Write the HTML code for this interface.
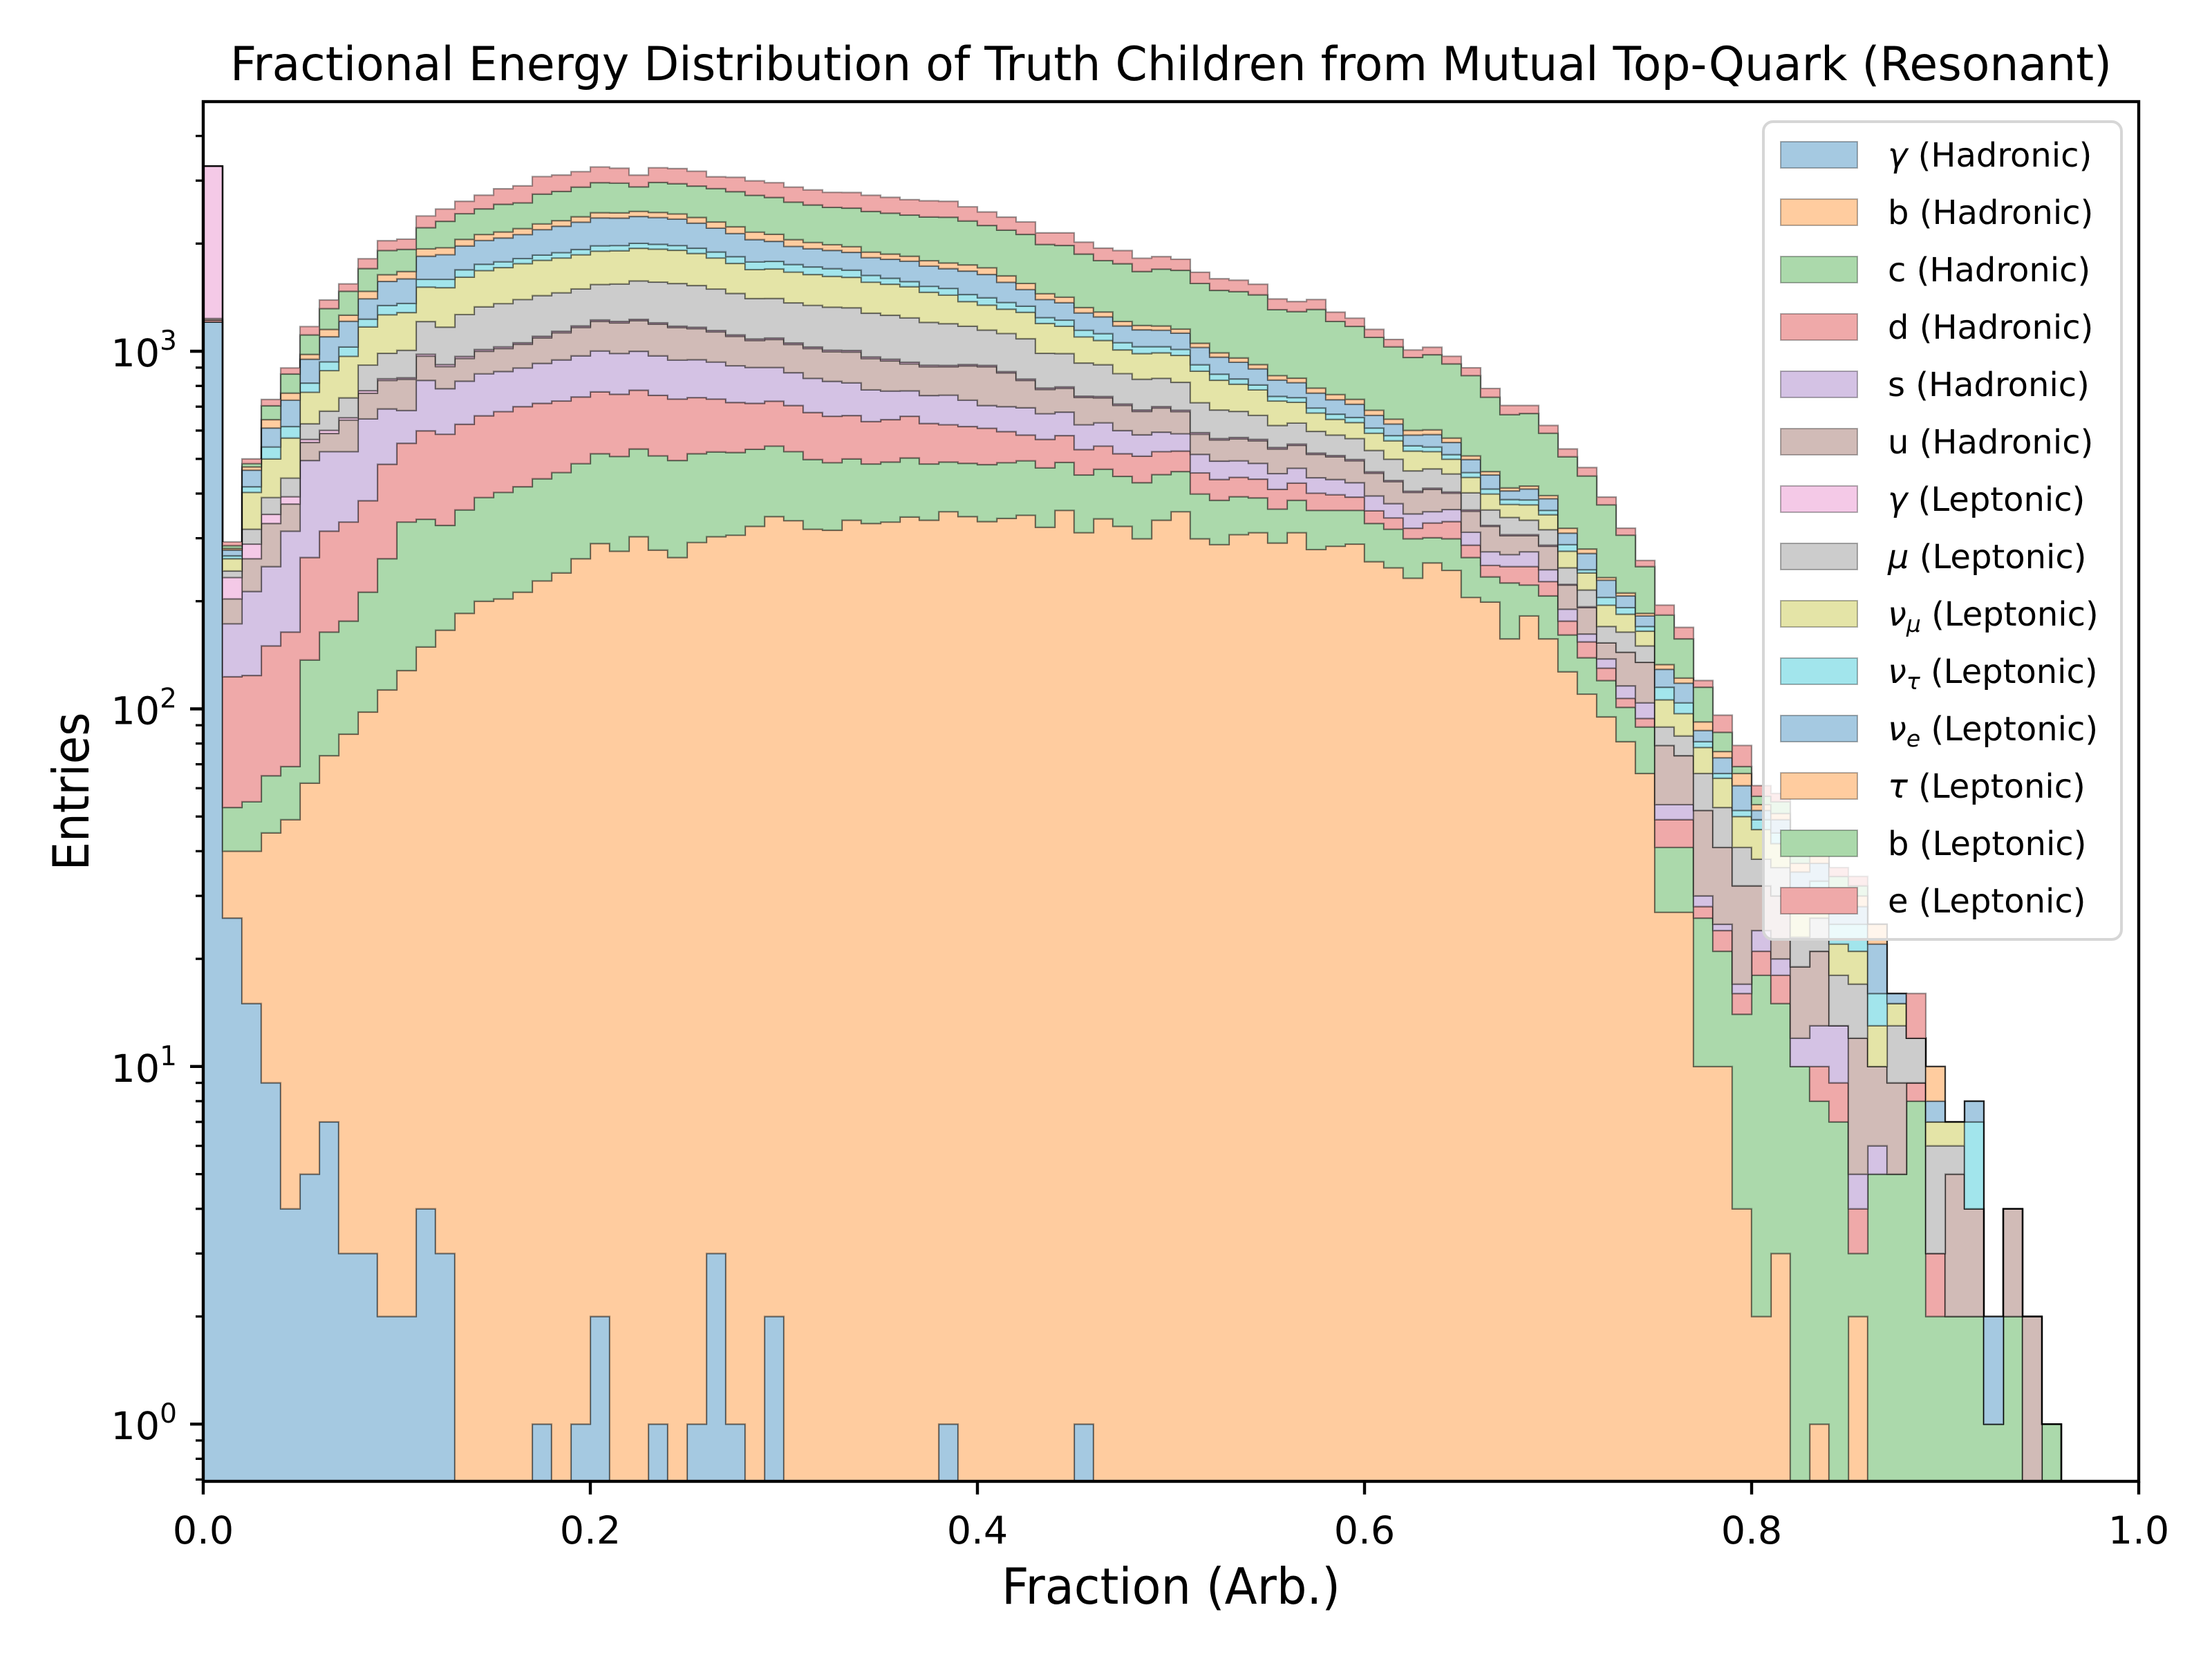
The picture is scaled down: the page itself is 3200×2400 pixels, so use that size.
<!DOCTYPE html>
<html>
<head>
<meta charset="utf-8">
<style>
  html, body { margin: 0; padding: 0; background: #ffffff; }
  svg { display: block; }
  text { font-family: "DejaVu Sans", "Liberation Sans", sans-serif; fill: #000; }
</style>
</head>
<body>
<svg id="chart" xmlns="http://www.w3.org/2000/svg" width="3200" height="2400" viewBox="0 0 3200 2400">
  <rect x="0" y="0" width="3200" height="2400" fill="#ffffff"/>
  <text x="1694" y="116" font-size="68" text-anchor="middle" textLength="2722" lengthAdjust="spacingAndGlyphs">Fractional Energy Distribution of Truth Children from Mutual Top-Quark (Resonant)</text>
  <defs>
    <clipPath id="plotClip"><rect x="294" y="147" width="2800" height="1996"/></clipPath>
  </defs>
  <g id="bars" clip-path="url(#plotClip)"></g>
  <g id="axes"></g>
  <g id="legend"></g>
  <text x="1694" y="2320" font-size="72" text-anchor="middle" textLength="490" lengthAdjust="spacingAndGlyphs">Fraction (Arb.)</text>
  <text x="0" y="0" font-size="72" text-anchor="middle" textLength="229" lengthAdjust="spacingAndGlyphs" transform="translate(128,1145) rotate(-90)">Entries</text>
</svg>
<script>
const binEdgesStart = 0.0;
const binWidth = 0.01;
const xTicks = [0.0, 0.2, 0.4, 0.6, 0.8, 1.0];
const xTickLabels = ["0.0", "0.2", "0.4", "0.6", "0.8", "1.0"];
const yMajorExps = [0, 1, 2, 3];
const seriesLabels = ["γ|(Hadronic)", "b (Hadronic)", "c (Hadronic)", "d (Hadronic)", "s (Hadronic)", "u (Hadronic)", "γ|(Leptonic)", "μ|(Leptonic)", "ν_μ|(Leptonic)", "ν_τ|(Leptonic)", "ν_e|(Leptonic)", "τ|(Leptonic)", "b (Leptonic)", "e (Leptonic)"];

const gammaHad = [1207,26,15,9,4,5,7,3,3,2, 2,4,3,0,0,0,0,1,0,1, 2,0,0,1,0,1,3,1,0,2, 0,0,0,0,0,0,0,0,1,0, 0,0,0,0,0,1,0,0,0,0, 0,0,0,0,0,0,0,0,0,0, 0,0,0,0,0,0,0,0,0,0, 0,0,0,0,0,0,0,0,0,0, 0,0,0,0,0,0,0,0,0,0, 0,0,0,0,0,0,0,0,0,0];
const bHad = [0,14,25,36,45,57,67,82,95,111, 126,145,163,185,200,203,212,227,240,262, 288,276,303,277,265,291,300,305,324,343, 336,318,316,337,330,333,344,337,355,345, 334,341,348,322,359,310,340,324,299,337, 356,299,288,307,311,291,311,279,285,289, 258,248,232,256,244,205,199,157,182,157, 127,110,95,81,66,27,27,10,10,4, 2,3,0,1,0,2,0,0,0,0, 0,0,0,0,0,0,0,0,0,0];
const cHad = [0,13,15,20,20,75,90,91,114,150, 205,190,160,175,190,200,206,212,218,222, 227,232,230,232,230,225,220,215,208,198, 188,180,172,163,154,157,159,147,134,141, 148,147,146,150,130,140,128,123,130,115, 105,100,95,85,78,71,72,80,74,70, 72,70,67,45,55,60,35,68,40,50, 34,29,25,20,23,14,14,16,11,10, 16,12,10,7,7,1,5,5,8,2, 2,2,1,2,0,1,0,0,0,0];
const dHad = [15,70,69,85,95,128,150,157,170,220, 220,260,260,265,270,275,282,275,268,260, 253,250,245,243,240,225,212,198,183,182, 181,176,170,161,152,154,155,144,133,130, 127,108,89,95,92,80,75,70,80,72, 65,58,55,52,50,49,45,42,38,32, 28,24,21,30,35,22,18,25,28,20, 15,15,10,6,5,8,8,2,3,2, 3,3,0,2,2,1,0,0,1,1, 0,0,0,0,0,0,0,0,0,0];
const sHad = [0,50,89,100,150,230,210,191,265,207, 130,230,200,200,205,200,198,210,220,226, 232,228,222,218,210,205,198,192,186,176, 166,166,166,155,144,130,117,124,131,114, 96,104,112,102,95,92,88,83,75,70, 62,58,55,50,47,44,43,42,41,38, 36,33,31,25,27,25,23,20,25,18, 14,8,8,9,10,5,5,2,1,1, 3,2,2,3,4,1,1,0,0,0, 0,0,0,0,0,0,0,0,0,0];
const uHad = [13,30,50,80,60,61,65,118,116,139, 152,140,120,130,135,140,148,165,180,195, 210,215,218,220,220,210,200,190,171,178, 174,178,173,179,174,166,147,153,151,180, 200,170,134,113,112,120,110,106,95,100, 90,71,72,75,76,78,75,72,69,65, 62,57,52,55,40,45,49,35,30,40, 32,30,15,28,31,25,20,22,16,15, 8,10,7,8,0,7,4,4,0,0, 3,2,0,2,2,0,0,0,0,0];
const gammaLep = [2058,30,26,20,18,11,12,10,13,9, 8,12,12,12,11,11,10,11,11,11, 11,11,10,10,10,10,10,10,10,10, 10,10,10,10,10,10,10,9,8,8, 8,7,7,7,7,6,6,6,6,6, 6,6,5,5,5,5,4,4,4,4, 4,3,3,3,3,3,2,2,2,2, 1,1,0,0,0,0,0,0,0,0, 0,0,0,0,0,0,0,0,0,0, 0,0,0,0,0,0,0,0,0,0];
const muLep = [0,10,29,40,50,60,79,89,139,149, 163,230,250,300,320,330,339,330,320,317, 314,330,345,360,372,360,350,340,322,316, 311,316,321,318,314,311,308,290,281,257, 233,244,248,198,190,178,170,154,150,140, 135,126,115,105,95,82,80,78,72,72, 68,64,57,55,50,42,34,36,30,30, 25,22,17,20,15,10,10,14,12,9, 6,6,4,5,5,5,0,4,3,3, 1,0,0,0,0,0,0,0,0,0];
const numuLep = [0,20,85,110,130,141,203,227,255,278, 277,301,338,345,350,355,363,365,366,367, 368,368,368,369,369,350,330,310,288,294, 299,295,292,287,282,279,275,258,242,202, 200,190,201,209,190,170,155,143,150,150, 155,162,145,130,118,106,90,75,62,62, 62,63,63,55,45,42,39,30,35,32, 28,25,25,20,15,17,13,12,11,9, 8,6,5,4,4,4,3,2,0,1, 1,0,0,0,0,0,0,0,0,0];
const nutauLep = [0,5,15,40,44,47,51,60,60,78, 78,77,83,78,70,65,59,62,64,65, 67,65,63,61,59,65,72,78,86,85, 83,82,82,76,70,60,51,57,63,64, 65,58,52,46,47,48,48,48,45,40, 38,37,33,28,25,22,22,22,22,21, 20,19,18,16,15,14,13,12,12,10, 12,5,10,8,5,9,7,3,2,2, 3,3,3,3,3,4,3,0,0,0, 0,3,0,0,0,0,0,0,0,0];
const nueLep = [0,10,47,70,114,135,164,185,172,225, 233,255,273,280,290,295,303,330,350,370, 387,382,378,374,367,340,315,295,274,245, 216,214,212,205,197,208,220,212,203,235, 229,190,151,153,145,135,128,120,118,115, 112,108,100,95,88,83,75,70,65,58, 52,45,39,45,42,40,39,22,28,28, 22,27,24,15,12,14,14,6,7,9, 3,4,4,4,4,3,6,1,0,1, 0,1,1,0,0,0,0,0,0,0];
const tauLep = [0,3,10,34,34,30,53,49,69,69, 77,90,86,85,80,82,83,83,82,82, 82,81,80,80,79,85,90,95,102,95, 88,80,72,70,67,62,58,61,64,68, 72,66,60,54,50,45,40,35,33,32, 30,28,27,26,25,24,24,25,25,23, 22,20,18,18,16,12,10,8,8,8, 10,8,4,4,3,4,4,5,3,5, 2,2,2,2,2,2,3,0,0,2, 0,0,0,0,0,0,0,0,0,0];
const bLep = [0,5,10,60,100,131,165,209,232,276, 256,282,361,370,380,420,397,480,480,500, 520,515,420,520,520,530,550,565,575,568, 560,550,540,553,566,563,560,582,604,570, 536,556,575,540,560,545,505,545,490,520, 530,495,490,510,520,452,450,520,455,440, 410,383,360,375,350,345,283,250,250,195, 187,168,139,95,65,50,35,23,10,3, 3,4,5,4,3,2,0,0,0,0, 0,0,0,0,0,0,0,0,0,0];
const eLep = [0,7,15,29,34,61,75,72,111,124, 131,173,189,200,230,270,300,328,310,300, 314,296,225,294,300,290,225,270,266,268, 265,260,255,265,270,260,250,260,255,220, 204,190,176,154,166,148,149,155,149,142, 124,115,115,112,101,93,86,86,74,63, 57,50,47,48,46,44,43,40,35,30, 26,25,19,14,10,12,12,5,10,10, 4,3,3,2,2,2,0,0,4,0, 0,0,0,0,0,0,0,0,0,0];

const NS = "http://www.w3.org/2000/svg";
const PL = 294, PR = 3094, PT = 147, PB = 2143;
const X0 = 0, X1 = 1;
const LOGMIN = -0.16, LOGMAX = 3.698;
function xScale(v) { return PL + (v - X0) / (X1 - X0) * (PR - PL); }
function yScale(v) {
  if (v <= 0) return PB + 60;
  return PB - (Math.log10(v) - LOGMIN) / (LOGMAX - LOGMIN) * (PB - PT);
}
const colors = ["#a5c9e1", "#ffcc9f", "#abd9ab", "#efa9a9", "#d4c2e4", "#d1bbb7", "#f4c9e7", "#cccccc", "#e4e4a7", "#a2e5ec", "#a5c9e1", "#ffcc9f", "#abd9ab", "#efa9a9"];
const seriesList = [gammaHad, bHad, cHad, dHad, sHad, uHad, gammaLep, muLep, numuLep, nutauLep, nueLep, tauLep, bLep, eLep];
const seriesKeys = ["gamma-hadronic", "b-hadronic", "c-hadronic", "d-hadronic", "s-hadronic", "u-hadronic", "gamma-leptonic", "mu-leptonic", "nu-mu-leptonic", "nu-tau-leptonic", "nu-e-leptonic", "tau-leptonic", "b-leptonic", "e-leptonic"];

const barsG = document.getElementById("bars");
const nBins = gammaHad.length;
let cumBottom = new Array(nBins).fill(0);
seriesList.forEach(function (series, si) {
  const cumTop = cumBottom.map(function (b, i) { return b + series[i]; });
  let d = "";
  for (let i = 0; i < nBins; i++) {
    const xa = xScale(binEdgesStart + i * binWidth);
    const xb = xScale(binEdgesStart + (i + 1) * binWidth);
    const yt = yScale(cumTop[i]);
    d += (i === 0 ? "M" : "L") + xa.toFixed(2) + "," + yt.toFixed(2) + "L" + xb.toFixed(2) + "," + yt.toFixed(2);
  }
  for (let i = nBins - 1; i >= 0; i--) {
    const xa = xScale(binEdgesStart + i * binWidth);
    const xb = xScale(binEdgesStart + (i + 1) * binWidth);
    const yb = yScale(cumBottom[i]);
    d += "L" + xb.toFixed(2) + "," + yb.toFixed(2) + "L" + xa.toFixed(2) + "," + yb.toFixed(2);
  }
  d += "Z";
  const p = document.createElementNS(NS, "path");
  p.setAttribute("d", d);
  p.setAttribute("fill", colors[si]);
  p.setAttribute("stroke", "rgba(0,0,0,0.38)");
  p.setAttribute("stroke-width", "2.2");
  p.setAttribute("stroke-linejoin", "miter");
  
  
  barsG.appendChild(p);
  cumBottom = cumTop;
});

const axesG = document.getElementById("axes");
function addLine(x1, y1, x2, y2, w, name) {
  const l = document.createElementNS(NS, "line");
  l.setAttribute("x1", x1); l.setAttribute("y1", y1);
  l.setAttribute("x2", x2); l.setAttribute("y2", y2);
  l.setAttribute("stroke", "#000"); l.setAttribute("stroke-width", w);
  
  
  axesG.appendChild(l);
  return l;
}
const frame = document.createElementNS(NS, "rect");
frame.setAttribute("x", PL); frame.setAttribute("y", PT);
frame.setAttribute("width", PR - PL); frame.setAttribute("height", PB - PT);
frame.setAttribute("fill", "none"); frame.setAttribute("stroke", "#000"); frame.setAttribute("stroke-width", "4.4");


axesG.appendChild(frame);

xTicks.forEach(function (t, i) {
  const x = xScale(t);
  addLine(x, PB, x, PB + 19, 4.4, "x-tick");
  const tx = document.createElementNS(NS, "text");
  tx.setAttribute("x", x); tx.setAttribute("y", 2233);
  tx.setAttribute("font-size", "55.6"); tx.setAttribute("text-anchor", "middle");
  tx.textContent = xTickLabels[i];
  
  
  axesG.appendChild(tx);
});

yMajorExps.forEach(function (e) {
  const y = yScale(Math.pow(10, e));
  addLine(PL - 19, y, PL, y, 4.4, "y-tick");
  const tx = document.createElementNS(NS, "text");
  tx.setAttribute("x", 256); tx.setAttribute("y", y + 22);
  tx.setAttribute("font-size", "55.6"); tx.setAttribute("text-anchor", "end");
  tx.appendChild(document.createTextNode("10"));
  const sup = document.createElementNS(NS, "tspan");
  sup.setAttribute("font-size", "39"); sup.setAttribute("dy", "-24");
  sup.textContent = String(e);
  tx.appendChild(sup);
  
  
  axesG.appendChild(tx);
});
for (let e = -1; e <= 3; e++) {
  for (let k = 2; k <= 9; k++) {
    const v = k * Math.pow(10, e);
    const lv = Math.log10(v);
    if (lv < LOGMIN || lv > LOGMAX) continue;
    const y = yScale(v);
    addLine(PL - 11, y, PL, y, 3.3, "y-minor-tick");
  }
}

const legG = document.getElementById("legend");
const box = document.createElementNS(NS, "rect");
box.setAttribute("x", 2551); box.setAttribute("y", 176);
box.setAttribute("width", 518); box.setAttribute("height", 1183);
box.setAttribute("rx", 14); box.setAttribute("fill", "rgba(255,255,255,0.8)");
box.setAttribute("stroke", "#d6d6d6"); box.setAttribute("stroke-width", "4");


legG.appendChild(box);
seriesLabels.forEach(function (lab, i) {
  const cy = 224 + 83 * i;
  const g = document.createElementNS(NS, "g");
  
  
  const sw = document.createElementNS(NS, "rect");
  sw.setAttribute("x", 2576); sw.setAttribute("y", cy - 19);
  sw.setAttribute("width", 111); sw.setAttribute("height", 38);
  sw.setAttribute("fill", colors[i]); sw.setAttribute("stroke", "rgba(0,0,0,0.3)"); sw.setAttribute("stroke-width", "2");
  
  
  g.appendChild(sw);
  const tx = document.createElementNS(NS, "text");
  tx.setAttribute("x", 2731); tx.setAttribute("y", cy + 17);
  tx.setAttribute("font-size", "48");
  
  
  if (lab.indexOf("|") >= 0) {
    const parts = lab.split("|");
    const sym = parts[0];
    if (sym.indexOf("_") >= 0) {
      const sp = sym.split("_");
      const a = document.createElementNS(NS, "tspan");
      a.setAttribute("font-style", "italic"); a.textContent = sp[0];
      tx.appendChild(a);
      const b = document.createElementNS(NS, "tspan");
      b.setAttribute("font-style", "italic"); b.setAttribute("font-size", "33"); b.setAttribute("dy", "9");
      b.textContent = sp[1];
      tx.appendChild(b);
      const c = document.createElementNS(NS, "tspan");
      c.setAttribute("dy", "-9");
      c.textContent = "\u00a0" + parts[1];
      tx.appendChild(c);
    } else {
      const a = document.createElementNS(NS, "tspan");
      a.setAttribute("font-style", "italic"); a.textContent = sym;
      tx.appendChild(a);
      const c = document.createElementNS(NS, "tspan");
      c.textContent = "\u00a0" + parts[1];
      tx.appendChild(c);
    }
  } else {
    tx.textContent = lab;
  }
  g.appendChild(tx);
  legG.appendChild(g);
});
</script>
</body>
</html>
